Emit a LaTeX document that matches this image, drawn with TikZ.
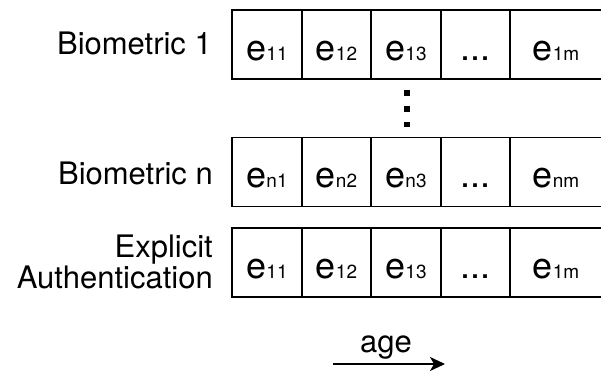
\documentclass[tikz,border=0pt]{standalone}
\usepackage{fontspec}
\setmainfont{TeX Gyre Heros}
\usetikzlibrary{arrows.meta}
% subscript index set on the baseline at a smaller size
\newcommand\idx[1]{{\fontsize{19}{19}\selectfont #1}}
\begin{document}
\begin{tikzpicture}[x=1pt,y=-1pt,
  cell/.style={draw=black, line width=1.5pt, rectangle, inner sep=0pt,
    minimum height=69pt, text height=32pt, text depth=0pt,
    font=\fontsize{36}{36}\selectfont},
  rowlabel/.style={inner sep=0pt, anchor=base east,
    font=\fontsize{31}{31}\selectfont},
  vdot/.style={fill=black, inner sep=0pt, minimum size=5.5pt, rectangle},
  agearrow/.style={line width=2pt, -{Stealth[length=15pt,width=14pt,inset=4pt]}}]
\useasboundingbox (0,0) rectangle (601,371);

% --- row: Biometric 1 ---
\node[rowlabel] (lab1) at (212,55) {Biometric 1};
\node[cell, minimum width=70pt] (a1) at (267,44.5) {e\idx{11}};
\node[cell, minimum width=69pt] (a2) at (336.5,44.5) {e\idx{12}};
\node[cell, minimum width=70pt] (a3) at (406,44.5) {e\idx{13}};
\node[cell, minimum width=69pt] (a4) at (475.5,44.5) {...};
\node[cell, minimum width=92pt] (a5) at (556,44.5) {e\idx{1m}};

% --- vertical ellipsis between rows ---
\node[vdot] (d1) at (407,93) {};
\node[vdot] (d2) at (407,108.8) {};
\node[vdot] (d3) at (407,124.6) {};

% --- row: Biometric n ---
\node[rowlabel] (labn) at (213,185) {Biometric n};
\node[cell, minimum width=70pt] (b1) at (267,172) {e\idx{n1}};
\node[cell, minimum width=69pt] (b2) at (336.5,172) {e\idx{n2}};
\node[cell, minimum width=70pt] (b3) at (406,172) {e\idx{n3}};
\node[cell, minimum width=69pt] (b4) at (475.5,172) {...};
\node[cell, minimum width=92pt] (b5) at (556,172) {e\idx{nm}};

% --- row: Explicit Authentication ---
\node[rowlabel] (labe1) at (213,257.7) {Explicit};
\node[rowlabel] (labe2) at (213,288) {Authentication};
\node[cell, minimum width=70pt] (c1) at (267,262.5) {e\idx{11}};
\node[cell, minimum width=69pt] (c2) at (336.5,262.5) {e\idx{12}};
\node[cell, minimum width=70pt] (c3) at (406,262.5) {e\idx{13}};
\node[cell, minimum width=69pt] (c4) at (475.5,262.5) {...};
\node[cell, minimum width=92pt] (c5) at (556,262.5) {e\idx{1m}};

% --- age axis ---
\node[inner sep=0pt, anchor=base, font=\fontsize{31}{31}\selectfont] (age) at (386,352) {age};
\coordinate (ageL) at (333,364);
\coordinate (ageR) at (445,364);
\draw[agearrow] (ageL) -- (ageR);
\end{tikzpicture}
\end{document}
